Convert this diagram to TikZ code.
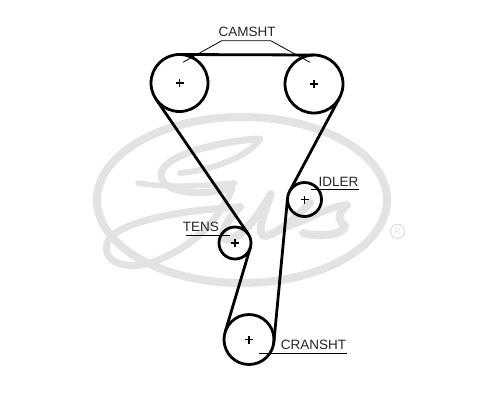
\documentclass[tikz,border=0pt]{standalone}
\usepackage{fontspec}
\setmainfont{Liberation Sans}
\definecolor{logo}{gray}{0.89}
\tikzset{
  pulley/.style={circle,draw=black,line width=2.8pt,fill=none,inner sep=0pt,outer sep=0pt},
  belt/.style={draw=black,line width=2.8pt},
  leader/.style={draw=black,line width=0.8pt},
  lab/.style={font=\fontsize{13.5}{15}\selectfont,text=black!85,inner sep=0pt},
  plusmark/.style={draw=black,line width=1.9pt},
  logostroke/.style={draw=logo,line width=7pt,line cap=round,line join=round,fill=none}
}
\begin{document}
\begin{tikzpicture}[x=1pt,y=-1pt]
\useasboundingbox (0,0) rectangle (500,400);
\fill[white] (0,0) rectangle (500,400);
% logo
\draw[draw=logo,line width=8pt] (242,200) ellipse [x radius=145,y radius=83];
\draw[logostroke,line width=5.5pt] (138,183) .. controls (170,188) and (200,186) .. (235,183);
\draw[logostroke] (260,139) .. controls (225,140) and (160,155) .. (161,175) .. controls (163,195) and (205,196) .. (232,188) .. controls (220,220) and (190,250) .. (150,263) .. controls (125,270) and (102,262) .. (107,243) .. controls (115,222) and (180,210) .. (240,207);
\draw[logostroke,line width=6pt] (260,139) .. controls (250,155) and (215,170) .. (180,173);
\draw[logostroke,line width=8pt] (240,207) .. controls (224,222) and (218,240) .. (228,240) .. controls (245,236) and (262,210) .. (271,194) .. controls (263,215) and (255,236) .. (266,236) .. controls (282,232) and (300,213) .. (310,203);
\draw[logostroke,line width=7pt] (283,228) .. controls (305,222) and (330,205) .. (347,205);
\draw[logostroke,line width=8pt] (347,205) .. controls (335,215) and (340,222) .. (345,226) .. controls (345,234) and (320,238) .. (303,233);
\node[circle,draw=logo,line width=1.3pt,text=logo,font=\fontsize{9}{9}\selectfont,inner sep=0pt,minimum size=14pt] (reg) at (397.5,231.5) {R};
% pulleys
\node[pulley,minimum size=57pt] (camL) at (179.5,83) {};
\node[pulley,minimum size=58pt] (camR) at (314,84) {};
\node[pulley,minimum size=34pt] (idler) at (304.5,199.5) {};
\node[pulley,minimum size=32pt] (tens) at (235,243) {};
\node[pulley,minimum size=50pt] (crank) at (249,339.5) {};
\foreach \n in {camL,camR,idler,tens,crank}{
  \draw[plusmark] ([xshift=-4pt]\n.center) -- ([xshift=4pt]\n.center);
  \draw[plusmark] ([yshift=-4pt]\n.center) -- ([yshift=4pt]\n.center);
}
% belt
\draw[belt] (camL.90) -- (camR.90);
\draw[belt] (camL.215.6) -- (tens.35.6);
\draw[belt] (tens.343.4) -- (crank.163.4);
\draw[belt] (crank.354.6) -- (idler.174.6);
\draw[belt] (idler.151.9) -- (camR.331.9);
% labels
\node[lab,anchor=base] (camlab) at (247,36) {CAMSHT};
\node[lab,anchor=base] (idlab) at (338.5,186) {IDLER};
\node[lab,anchor=base] (tenslab) at (200.8,231) {TENS};
\node[lab,anchor=base] (crlab) at (313.5,349) {CRANSHT};
\coordinate (c1) at (183,62.3);
\coordinate (c2) at (221.7,40.7);
\coordinate (c3) at (270.7,40.7);
\coordinate (c4) at (310,62.3);
\draw[leader] (c1) -- (c2) -- (c3) -- (c4);
\coordinate (i1) at (311,189.3);
\coordinate (i2) at (359,189.3);
\draw[leader] (i1) -- (i2);
\coordinate (t1) at (186,235);
\coordinate (t2) at (230,235);
\draw[leader] (t1) -- (t2);
\coordinate (r1) at (259.3,353.3);
\coordinate (r2) at (346.7,353.3);
\draw[leader] (r1) -- (r2);
\end{tikzpicture}
\end{document}
